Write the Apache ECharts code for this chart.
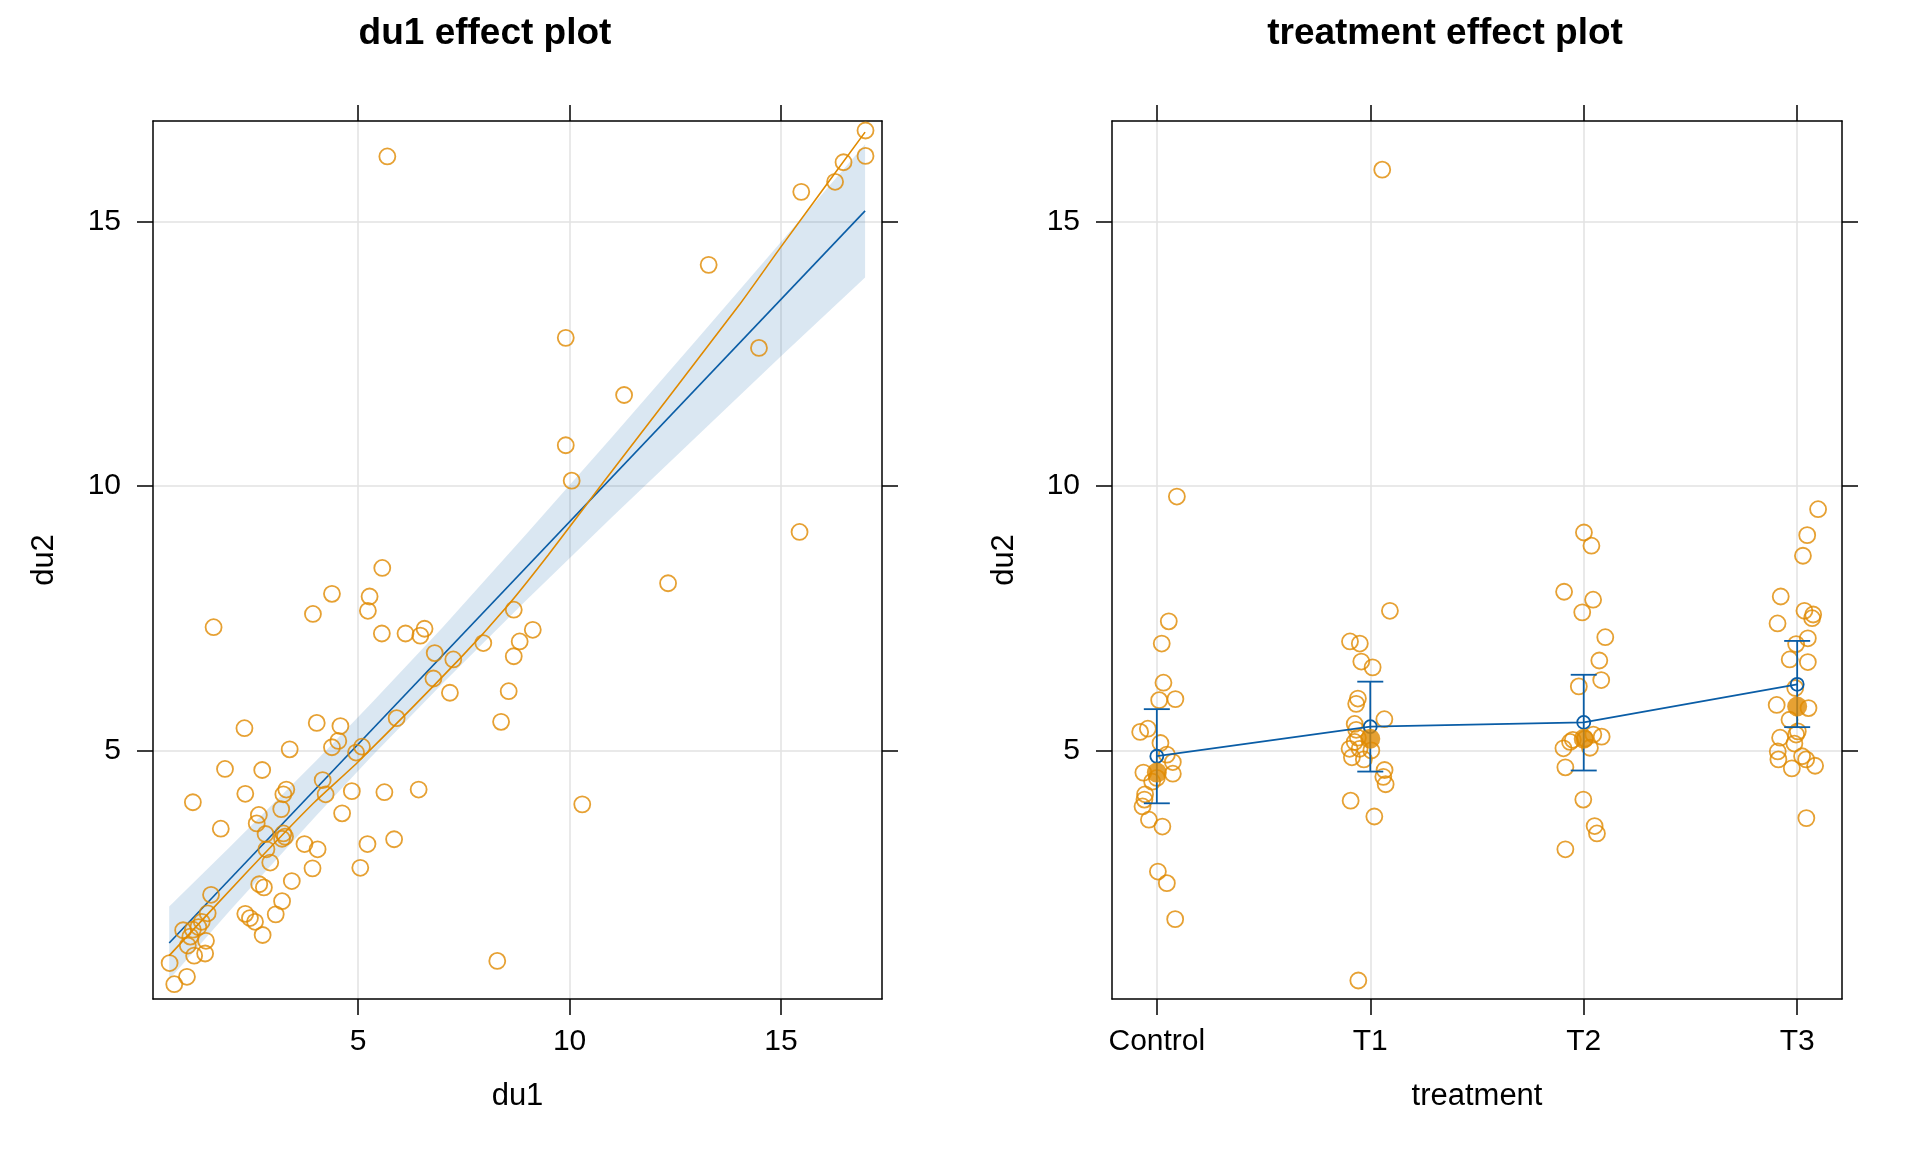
<!DOCTYPE html>
<html lang="en">
<head>
  <meta charset="UTF-8">
  <title>effect plots</title>
  <style>
    html, body { margin: 0; padding: 0; background: #fff; }
    #main { width: 1920px; height: 1152px; }
  </style>
</head>
<body>
  <div id="main"></div>
  <script src="https://cdn.jsdelivr.net/npm/echarts@6/dist/echarts.min.js"></script>
  <script type="text/javascript">
    // ---- du1 effect plot ----
    var du1 = [5.69, 17.00, 17.00, 16.48, 16.28, 15.48, 13.29, 9.91, 14.48, 11.29, 9.91, 10.05, 15.44, 12.33,
      5.57, 4.38, 5.27, 5.23, 3.93, 1.58, 5.56, 6.12, 6.47, 6.57, 6.81, 7.25, 6.78, 7.17, 5.91, 4.02,
      4.58, 2.31, 4.53, 4.38, 3.38, 5.09, 4.95, 1.85, 2.73, 4.16, 3.30, 3.23, 4.23, 4.85, 5.62, 6.43,
      9.13, 8.82, 7.96, 8.68, 8.68, 8.56, 8.38, 10.30, 8.29,
      2.33, 1.09, 3.18, 4.62, 2.65, 2.60, 1.75, 2.81, 3.23, 3.27, 3.20, 2.83, 2.92, 3.73, 4.04, 3.92,
      5.05, 5.22, 5.85, 2.66, 2.77, 3.43, 3.20, 3.05, 2.33, 2.44, 2.56, 2.74,
      1.52, 1.44, 1.30, 1.22, 0.86, 1.09, 1.03, 1.40, 0.97, 1.12, 1.38, 0.54, 0.95, 0.65];
    var du2 = [16.23, 16.72, 16.24, 16.12, 15.75, 15.56, 14.18, 12.80, 12.61, 11.72, 10.77, 10.10, 9.13, 8.16,
      8.45, 7.96, 7.91, 7.64, 7.58, 7.33, 7.21, 7.21, 7.17, 7.30, 6.84, 6.72, 6.36, 6.09, 5.61, 5.52,
      5.46, 5.42, 5.18, 5.06, 5.02, 5.07, 4.96, 4.65, 4.63, 4.44, 4.26, 4.17, 4.17, 4.23, 4.21, 4.26,
      7.28, 7.06, 7.03, 6.78, 7.66, 6.12, 5.54, 3.98, 1.02,
      4.18, 4.02, 3.89, 3.81, 3.78, 3.62, 3.52, 3.42, 3.43, 3.37, 3.33, 3.13, 2.88, 3.23, 3.13, 2.77,
      2.78, 3.23, 3.32, 2.47, 2.41, 2.53, 2.15, 1.90, 1.91, 1.83, 1.76, 1.51,
      2.27, 1.92, 1.76, 1.66, 1.60, 1.61, 1.48, 1.40, 1.31, 1.12, 1.16, 0.98, 0.72, 0.58];

    // fitted line, confidence band and smoother
    var fitX = [0.53, 16.99];
    var fitY = [1.36, 15.20];
    var bandX = [0.53, 2, 4, 5.3, 7, 9, 11, 13, 15, 16.99];
    var bandLower = [0.67, 2.00, 3.76, 4.87, 6.27, 7.86, 9.41, 10.93, 12.45, 13.94];
    var bandUpper = [2.05, 3.20, 4.80, 5.88, 7.33, 9.11, 10.92, 12.76, 14.61, 16.46];
    var smoothX = [0.53, 2.37, 3.94, 5.02, 7.41, 8.56, 9.50, 10.80, 14.03, 15.00, 16.99];
    var smoothY = [1.12, 2.70, 4.00, 4.80, 6.74, 7.76, 8.70, 10.07, 13.44, 14.52, 16.69];

    // ---- treatment effect plot ----
    var treatments = ['Control', 'T1', 'T2', 'T3'];
    var effFit = [4.89, 5.45, 5.53, 6.25];
    var effLower = [4.00, 4.60, 4.62, 5.44];
    var effUpper = [5.78, 6.30, 6.43, 7.07];
    var groupMean = [4.58, 5.22, 5.22, 5.83];

    var controlDu2 = [9.80, 7.44, 7.02, 6.28, 5.95, 5.97, 5.41, 5.35, 5.14, 4.92, 4.78, 4.56, 4.58, 4.41,
      4.48, 4.17, 4.07, 3.94, 3.69, 3.56, 2.71, 2.49, 1.81];
    var controlJit = [0.094, 0.056, 0.023, 0.031, 0.011, 0.087, -0.042, -0.078, 0.017, 0.047, 0.075, 0.075,
      -0.063, -0.022, 0.0, -0.055, -0.058, -0.067, -0.037, 0.026, 0.005, 0.047, 0.086];
    var t1Du2 = [15.98, 7.64, 7.06, 7.02, 6.68, 6.57, 5.98, 5.88, 5.59, 5.50, 5.39, 5.24, 5.16, 5.03,
      5.00, 4.87, 4.83, 5.03, 4.63, 4.50, 4.36, 4.05, 3.75, 0.65];
    var t1Jit = [0.056, 0.092, -0.095, -0.049, -0.042, 0.011, -0.058, -0.066, 0.066, -0.073, -0.066, -0.058,
      -0.073, -0.097, 0.005, -0.086, -0.030, -0.050, 0.067, 0.061, 0.072, -0.092, 0.019, -0.056];
    var t2Du2 = [9.12, 8.87, 8.00, 7.85, 7.61, 7.14, 6.70, 6.33, 6.21, 5.26, 5.30, 5.20, 5.16, 5.04,
      5.05, 5.22, 4.68, 4.07, 3.57, 3.43, 3.13];
    var t2Jit = [0.001, 0.036, -0.092, 0.044, -0.007, 0.101, 0.073, 0.082, -0.023, 0.084, 0.045, -0.051,
      -0.064, -0.095, 0.029, 0.006, -0.086, -0.002, 0.051, 0.062, -0.086];
    var t3Du2 = [9.56, 9.07, 8.68, 7.91, 7.64, 7.57, 7.50, 7.40, 7.12, 7.01, 6.72, 6.67, 6.18, 5.86,
      5.80, 5.58, 5.36, 5.30, 5.24, 5.13, 4.98, 4.83, 4.89, 4.83, 4.71, 4.66, 3.72];
    var t3Jit = [0.098, 0.047, 0.027, -0.077, 0.034, 0.075, 0.070, -0.092, 0.050, -0.005, -0.035, 0.050,
      -0.009, -0.096, 0.053, -0.036, 0.003, -0.005, -0.080, -0.013, -0.091, -0.088, 0.023, 0.042,
      0.084, -0.025, 0.043];

    var yTicks = [5, 10, 15];
    var du1Ticks = [5, 10, 15];
    var treatTicks = [1, 2, 3, 4];

    var ORANGE = '#E08A00';
    var BLUE = '#0A5DA6';
    var FONT = 'Liberation Sans, Arial, Helvetica, sans-serif';

    var myChart = echarts.init(document.getElementById('main'));

    // build series data from the arrays
    var leftPoints = du1.map(function (x, i) { return [x, du2[i]]; });
    var bandData = bandX.map(function (x, i) { return [x, bandLower[i], bandUpper[i]]; });
    var fitData = fitX.map(function (x, i) { return [x, fitY[i]]; });
    var smoothData = smoothX.map(function (x, i) { return [x, smoothY[i]]; });

    var groups = [[controlJit, controlDu2], [t1Jit, t1Du2], [t2Jit, t2Du2], [t3Jit, t3Du2]];
    var rightPoints = [];
    groups.forEach(function (g, k) {
      g[1].forEach(function (v, i) { rightPoints.push([k + 1 + g[0][i], v]); });
    });
    var effData = effFit.map(function (v, i) { return [i + 1, v]; });
    var errData = effFit.map(function (v, i) { return [i + 1, effLower[i], effUpper[i]]; });
    var meanData = groupMean.map(function (v, i) { return [i + 1, v]; });

    function bottomAxis(grid, min, max, ticks, name, fmt) {
      return {
        type: 'value', gridIndex: grid, position: 'bottom', min: min, max: max, splitNumber: 3,
        axisLine: { show: true, onZero: false, lineStyle: { color: '#000', width: 1.5 } },
        axisTick: { show: true, length: 16, customValues: ticks, lineStyle: { color: '#000', width: 1.5 } },
        axisLabel: { customValues: ticks, margin: 28, fontSize: 30, color: '#000', fontFamily: FONT, formatter: fmt },
        splitLine: { show: true, lineStyle: { color: '#e2e2e2', width: 1.5 } },
        name: name, nameLocation: 'middle', nameGap: 82,
        nameTextStyle: { fontSize: 31, color: '#000', fontFamily: FONT }
      };
    }
    function topAxis(grid, min, max, ticks) {
      return {
        type: 'value', gridIndex: grid, position: 'top', min: min, max: max, splitNumber: 3,
        axisLine: { show: true, onZero: false, lineStyle: { color: '#000', width: 1.5 } },
        axisTick: { show: true, length: 16, customValues: ticks, lineStyle: { color: '#000', width: 1.5 } },
        axisLabel: { show: false }, splitLine: { show: false }
      };
    }
    function leftAxis(grid, gap) {
      return {
        type: 'value', gridIndex: grid, position: 'left', min: 0.3, max: 16.9, splitNumber: 3,
        axisLine: { show: true, onZero: false, lineStyle: { color: '#000', width: 1.5 } },
        axisTick: { show: true, length: 16, customValues: yTicks, lineStyle: { color: '#000', width: 1.5 } },
        axisLabel: { customValues: yTicks, margin: 32, fontSize: 30, color: '#000', fontFamily: FONT },
        splitLine: { show: true, lineStyle: { color: '#e2e2e2', width: 1.5 } },
        name: 'du2', nameLocation: 'middle', nameGap: gap,
        nameTextStyle: { fontSize: 31, color: '#000', fontFamily: FONT }
      };
    }
    function rightAxis(grid) {
      return {
        type: 'value', gridIndex: grid, position: 'right', min: 0.3, max: 16.9, splitNumber: 3,
        axisLine: { show: true, onZero: false, lineStyle: { color: '#000', width: 1.5 } },
        axisTick: { show: true, length: 16, customValues: yTicks, lineStyle: { color: '#000', width: 1.5 } },
        axisLabel: { show: false }, splitLine: { show: false }
      };
    }

    var ring = { color: 'rgba(0,0,0,0)', borderColor: ORANGE, borderWidth: 1.8 };

    option = {
      animation: false,
      backgroundColor: '#fff',
      title: [
        { text: 'du1 effect plot', left: 480, top: 10, textAlign: 'center',
          textStyle: { fontSize: 37, fontWeight: 'bold', color: '#000', fontFamily: FONT } },
        { text: 'treatment effect plot', left: 1440, top: 10, textAlign: 'center',
          textStyle: { fontSize: 37, fontWeight: 'bold', color: '#000', fontFamily: FONT } }
      ],
      grid: [
        { left: 153, top: 121, width: 729, height: 878 },
        { left: 1112, top: 121, width: 730, height: 878 }
      ],
      xAxis: [
        bottomAxis(0, 0.147, 17.39, du1Ticks, 'du1'),
        topAxis(0, 0.147, 17.39, du1Ticks),
        bottomAxis(1, 0.79, 4.21, treatTicks, 'treatment', function (v) { return treatments[Math.round(v) - 1]; }),
        topAxis(1, 0.79, 4.21, treatTicks)
      ],
      yAxis: [leftAxis(0, 93), rightAxis(0), leftAxis(1, 92), rightAxis(1)],
      series: [
        {
          // confidence band
          type: 'custom', xAxisIndex: 0, yAxisIndex: 0, z: 1, silent: true,
          data: bandData,
          encode: { x: 0, y: [1, 2] },
          renderItem: function (params, api) {
            if (params.dataIndex !== 0) return null;
            var pts = [];
            for (var i = 0; i < bandData.length; i++) pts.push(api.coord([bandData[i][0], bandData[i][2]]));
            for (var j = bandData.length - 1; j >= 0; j--) pts.push(api.coord([bandData[j][0], bandData[j][1]]));
            return { type: 'polygon', shape: { points: pts }, style: { fill: BLUE, opacity: 0.15 } };
          }
        },
        {
          type: 'line', xAxisIndex: 0, yAxisIndex: 0, z: 3, data: fitData, showSymbol: false,
          lineStyle: { color: BLUE, width: 1.6 }
        },
        {
          type: 'line', xAxisIndex: 0, yAxisIndex: 0, z: 3, data: smoothData, showSymbol: false, smooth: 0.2,
          lineStyle: { color: ORANGE, width: 1.6 }
        },
        {
          type: 'scatter', xAxisIndex: 0, yAxisIndex: 0, z: 4, data: leftPoints,
          symbol: 'circle', symbolSize: 16, itemStyle: ring
        },
        {
          type: 'scatter', xAxisIndex: 2, yAxisIndex: 2, z: 4, data: rightPoints,
          symbol: 'circle', symbolSize: 16, itemStyle: ring
        },
        {
          // error bars
          type: 'custom', xAxisIndex: 2, yAxisIndex: 2, z: 5, silent: true,
          data: errData,
          encode: { x: 0, y: [1, 2] },
          renderItem: function (params, api) {
            var x = api.value(0);
            var lo = api.coord([x, api.value(1)]);
            var hi = api.coord([x, api.value(2)]);
            var cap = 13;
            var st = { stroke: BLUE, lineWidth: 1.8 };
            return {
              type: 'group', children: [
                { type: 'line', shape: { x1: lo[0], y1: lo[1], x2: hi[0], y2: hi[1] }, style: st },
                { type: 'line', shape: { x1: lo[0] - cap, y1: lo[1], x2: lo[0] + cap, y2: lo[1] }, style: st },
                { type: 'line', shape: { x1: hi[0] - cap, y1: hi[1], x2: hi[0] + cap, y2: hi[1] }, style: st }
              ]
            };
          }
        },
        {
          type: 'line', xAxisIndex: 2, yAxisIndex: 2, z: 5, data: effData,
          symbol: 'circle', symbolSize: 13,
          itemStyle: { color: 'rgba(0,0,0,0)', borderColor: BLUE, borderWidth: 1.8 },
          lineStyle: { color: BLUE, width: 1.8 }
        },
        {
          type: 'scatter', xAxisIndex: 2, yAxisIndex: 2, z: 6, data: meanData,
          symbol: 'circle', symbolSize: 20, itemStyle: { color: ORANGE }
        }
      ]
    };
    myChart.setOption(option);
  </script>
</body>
</html>
